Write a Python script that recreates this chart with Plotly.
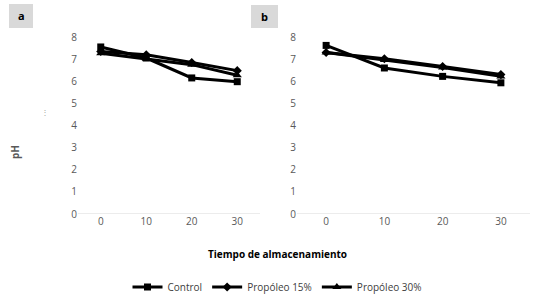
import plotly.graph_objects as go

days = [0, 10, 20, 30]
tick_labels = ["0", "10", "20", "30"]
y_ticks = [0, 1, 2, 3, 4, 5, 6, 7, 8]

a_control = [7.55, 7.05, 6.15, 5.98]
a_prop15 = [7.35, 7.2, 6.85, 6.48]
a_prop30 = [7.27, 7.02, 6.75, 6.27]

b_control = [7.62, 6.6, 6.22, 5.93]
b_prop15 = [7.3, 7.02, 6.67, 6.3]
b_prop30 = [7.3, 6.96, 6.62, 6.22]

names = ["Control", "Propóleo 15%", "Propóleo 30%"]
symbols = ["square", "diamond", "triangle-up"]
sizes = [7, 7, 8]

FONT = "Open Sans, Liberation Sans, sans-serif"
GREY = "#595959"

fig = go.Figure()
panels = [("x", "y", [a_control, a_prop15, a_prop30]),
          ("x2", "y2", [b_control, b_prop15, b_prop30])]
for pi, (xa, ya, series) in enumerate(panels):
    for i, vals in enumerate(series):
        fig.add_trace(go.Scatter(
            x=days, y=vals, xaxis=xa, yaxis=ya, mode="lines+markers",
            name=names[i], showlegend=(pi == 0),
            line=dict(color="black", width=3),
            marker=dict(symbol=symbols[i], size=sizes[i], color="black"),
        ))

ydom = [(299 - 214) / 299, (299 - 37) / 299]
axis_common = dict(
    range=[-5, 35], tickvals=days, ticktext=tick_labels, showgrid=False,
    zeroline=False, showline=False, ticks="",
    tickfont=dict(family=FONT, size=10, color=GREY),
)
yaxis_common = dict(
    range=[0, 8], tickvals=y_ticks, showgrid=False, zeroline=False,
    showline=False, ticks="", domain=ydom,
    tickfont=dict(family=FONT, size=10, color=GREY),
)

fig.update_layout(
    width=535, height=299,
    margin=dict(l=0, r=0, t=0, b=0, autoexpand=False),
    paper_bgcolor="white", plot_bgcolor="white",
    xaxis=dict(domain=[78 / 535, 260 / 535], anchor="y", **axis_common),
    yaxis=dict(anchor="x", **yaxis_common),
    xaxis2=dict(domain=[297 / 535, 530 / 535], anchor="y2", **axis_common),
    yaxis2=dict(anchor="x2", **yaxis_common),
    legend=dict(
        orientation="h", x=0.5 + 10 / 535, xanchor="center", y=(299 - 287) / 299,
        yanchor="middle",
        font=dict(family=FONT, size=10, color="#404040"),
        itemwidth=30,
    ),
    showlegend=True,
)

# baseline lines of each panel (light grey axis line at y=0)
for xa, ya in [("x", "y"), ("x2", "y2")]:
    fig.add_shape(type="line", xref=f"{xa} domain", yref=ya,
                  x0=0, x1=1, y0=0, y1=0,
                  line=dict(color="#d9d9d9", width=1), layer="below")

# panel label boxes
fig.add_shape(type="rect", xref="paper", yref="paper",
              x0=9 / 535, x1=33 / 535, y0=(299 - 28) / 299, y1=(299 - 4) / 299,
              fillcolor="#d9d9d9", line=dict(width=0), layer="below")
fig.add_shape(type="rect", xref="paper", yref="paper",
              x0=251 / 535, x1=278 / 535, y0=(299 - 28) / 299, y1=(299 - 5) / 299,
              fillcolor="#d9d9d9", line=dict(width=0), layer="below")
fig.add_annotation(text="<b>a</b>", xref="paper", yref="paper",
                   x=21 / 535, y=(299 - 16) / 299, showarrow=False,
                   xanchor="center", yanchor="middle",
                   font=dict(family=FONT, size=11, color="black"))
fig.add_annotation(text="<b>b</b>", xref="paper", yref="paper",
                   x=264.5 / 535, y=(299 - 17) / 299, showarrow=False,
                   xanchor="center", yanchor="middle",
                   font=dict(family=FONT, size=11, color="black"))

# axis titles
fig.add_annotation(text="<b>pH</b>", xref="paper", yref="paper",
                   x=15 / 535, y=(299 - 152) / 299, showarrow=False, textangle=-90,
                   xanchor="center", yanchor="middle",
                   font=dict(family=FONT, size=10, color=GREY))
fig.add_annotation(text="⋮", xref="paper", yref="paper",
                   x=45 / 535, y=(299 - 112) / 299, showarrow=False,
                   xanchor="center", yanchor="middle",
                   font=dict(family=FONT, size=8, color="#a6a6a6"))
fig.add_annotation(text="<b>Tiempo de almacenamiento</b>", xref="paper", yref="paper",
                   x=277 / 535, y=(299 - 254) / 299, showarrow=False,
                   xanchor="center", yanchor="middle",
                   font=dict(family=FONT, size=10, color="black"))

fig.write_html("out.html",
               config={"displayModeBar": False},
               post_script="document.body.style.margin='0';document.body.style.overflow='hidden';")
